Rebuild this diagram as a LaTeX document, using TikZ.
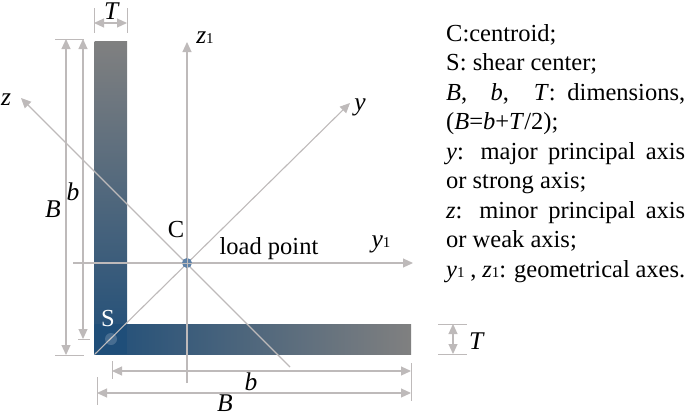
\documentclass[tikz,border=0pt]{standalone}
\usepackage{fontspec}
\setmainfont{Liberation Serif}
\usetikzlibrary{arrows.meta}
\definecolor{dimgray}{RGB}{190,186,186}
\definecolor{barblue}{RGB}{31,78,121}
\definecolor{bargray}{RGB}{128,128,128}
\definecolor{dotblue}{RGB}{95,130,168}
\newcommand{\one}{{\fontsize{15}{15}\selectfont 1}}
\tikzset{
	dimline/.style={draw=dimgray, line width=1.1pt, -{Triangle[length=10pt,width=9pt]}},
	bothline/.style={dimline, {Triangle[length=10pt,width=9pt]}-{Triangle[length=10pt,width=9pt]}},
	tickline/.style={draw=dimgray, line width=1pt},
	lbl/.style={inner sep=0pt, font=\fontsize{24.5}{29.5}\selectfont},
	dimlbl/.style={inner sep=0pt, font=\fontsize{25.5}{29}\selectfont}
}
\begin{document}
\begin{tikzpicture}[x=1pt,y=-1pt]
	\useasboundingbox (0,0) rectangle (685,415);
	% the two legs
	\fill[top color=bargray, bottom color=barblue] (94.5,41) rectangle (127,354);
	\fill[left color=barblue, right color=bargray] (94.5,324) rectangle (411,354);
	\fill[barblue] (94.5,324) rectangle (127,354);

	\path (187,263) coordinate (cen)
		(95,354) coordinate (yfoot)
		(350,103) coordinate (ytip)
		(290,367) coordinate (zfoot)
		(21,98) coordinate (ztip)
		(187,383) coordinate (zonefoot)
		(187,42) coordinate (zonetip)
		(73,263) coordinate (yonefoot)
		(413,263) coordinate (yonetip);

	% axes
	\draw[dimline] (yfoot) -- (ytip);
	\draw[dimline] (zfoot) -- (ztip);
	\draw[dimline] (zonefoot) -- (zonetip);
	\draw[dimline] (yonefoot) -- (yonetip);
	\fill[dotblue] (cen) circle (5);
	\draw[dimgray, line width=0.6pt] (182,263) -- (192,263) (187,258) -- (187,268);
	\fill[white, opacity=0.18] (111,339) circle (6);

	% dimensions
	\path (94,23) coordinate (ttopl) (127,23) coordinate (ttopr)
		(66,39) coordinate (bigtop) (66,355) coordinate (bigbot)
		(83,39) coordinate (smalltop) (83,339) coordinate (smallbot)
		(112,371) coordinate (sbl) (411,371) coordinate (sbr)
		(97,393) coordinate (bbl) (411,393) coordinate (bbr)
		(453,324) coordinate (trt) (453,354) coordinate (trb);
	\draw[bothline] (ttopl) -- (ttopr);
	\draw[bothline] (bigtop) -- (bigbot);
	\draw[bothline] (smalltop) -- (smallbot);
	\draw[bothline] (sbl) -- (sbr);
	\draw[bothline] (bbl) -- (bbr);
	\draw[bothline] (trt) -- (trb);
	\draw[tickline] (94,8) -- (94,33);
	\draw[tickline] (127,8) -- (127,33);
	\draw[tickline] (55,39) -- (84,39);
	\draw[tickline] (55,355) -- (84,355);
	\draw[tickline] (78,339) -- (90,339);
	\draw[tickline] (112,361) -- (112,379);
	\draw[tickline] (97,377) -- (97,405);
	\draw[tickline] (411,363) -- (411,401);
	\draw[tickline] (438,324) -- (467,324);
	\draw[tickline] (438,354) -- (467,354);

	% labels
	\node[dimlbl] (labtop) at (112,11) {\textit{T}};
	\node[dimlbl] (labzone) at (205,38) {\textit{z}\one};
	\node[dimlbl] (labz) at (6,100) {\textit{z}};
	\node[dimlbl] (laby) at (360,107) {\textit{y}};
	\node[dimlbl] (labbig) at (53,209) {\textit{B}};
	\node[dimlbl] (labsmall) at (73,192) {\textit{b}};
	\node[lbl] (labc) at (176,230) {C};
	\node[lbl,text=white] (labs) at (108,319) {S};
	\node[lbl] (labload) at (269,249) {load point};
	\node[dimlbl] (labyone) at (381,244) {\textit{y}\one};
	\node[dimlbl] (labbotb) at (251,382) {\textit{b}};
	\node[dimlbl] (labbotB) at (225,403) {\textit{B}};
	\node[dimlbl] (labright) at (477,341) {\textit{T}};

	\node[lbl, anchor=north west, text width=239pt, align=justify] (legend) at (446,24) {%
		C:centroid;\\
		S: shear center;\\
		\textit{B}, \ \textit{b}, \ \textit{T}: dimensions,\linebreak
		(\textit{B}=\textit{b}+\textit{T}/2);\\
		\textit{y}: major principal axis\linebreak
		or strong axis;\\
		\textit{z}: minor principal axis\linebreak
		or weak axis;\\
		\textit{y}\one\ , \textit{z}\one: geometrical axes.};
\end{tikzpicture}
\end{document}
